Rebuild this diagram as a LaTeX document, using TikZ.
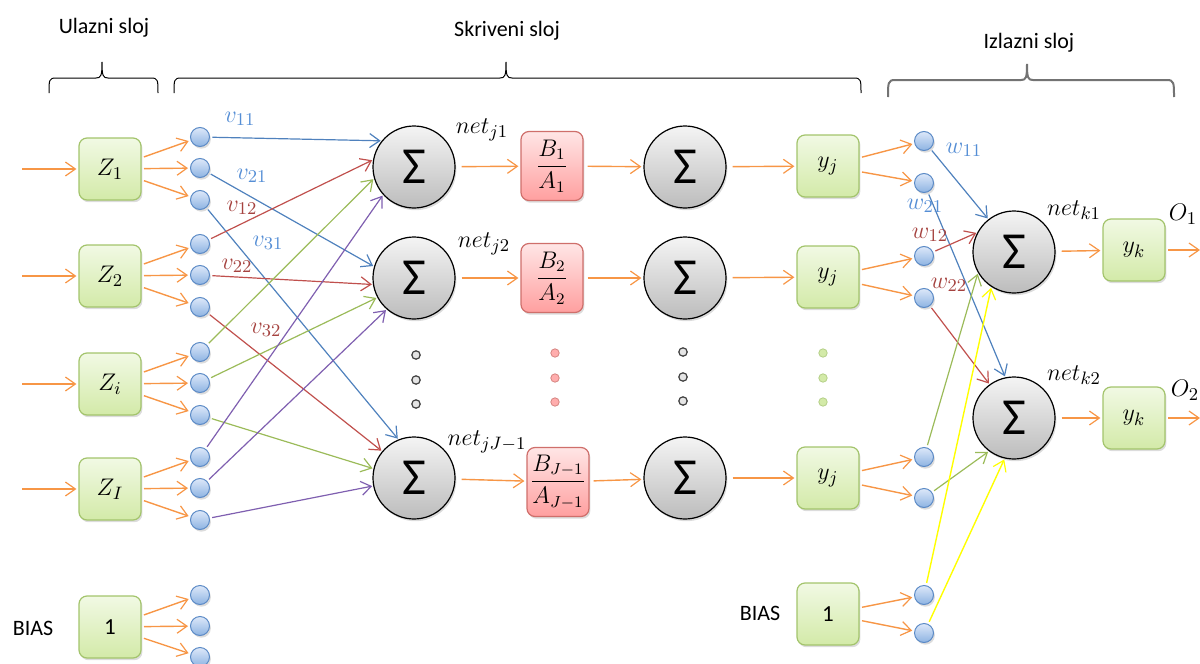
\documentclass[tikz,border=0pt]{standalone}
\usepackage{fontspec}
\setmainfont{Carlito}
\usepackage{amsmath}
\usetikzlibrary{arrows.meta,shadows}
\definecolor{gtop}{HTML}{F1F9E4}
\definecolor{gbot}{HTML}{D3EAA8}
\definecolor{gborder}{HTML}{A3C46C}
\definecolor{ptop}{HTML}{FFE6E6}
\definecolor{pbot}{HTML}{FF9F9F}
\definecolor{pborder}{HTML}{CF6F6B}
\definecolor{stop}{HTML}{F4F4F4}
\definecolor{sbot}{HTML}{BCBCBC}
\definecolor{ctop}{HTML}{DDE8F9}
\definecolor{cbot}{HTML}{8DB3E2}
\definecolor{cborder}{HTML}{5B8AC6}
\definecolor{corange}{HTML}{F79646}
\definecolor{cblue}{HTML}{4F81BD}
\definecolor{cred}{HTML}{C0504D}
\definecolor{cgreen}{HTML}{9BBB59}
\definecolor{cpurple}{HTML}{7F5FB0}
\definecolor{cyellow}{HTML}{FFFF00}
\definecolor{wblue}{HTML}{558ED5}
\definecolor{wred}{HTML}{A5423F}
\begin{document}
\begin{tikzpicture}[x=0.5pt,y=-0.5pt,
  lab/.style={font=\fontsize{11}{13}\selectfont, inner sep=0pt},
  mlab/.style={font=\fontsize{12.5}{14}\selectfont, inner sep=0pt},
  shad/.style={drop shadow={opacity=0.28,shadow xshift=0.7pt,shadow yshift=-1.1pt}},
  gbox/.style={rectangle,rounded corners=4pt,draw=gborder,line width=0.6pt,top color=gtop,bottom color=gbot,minimum width=31pt,minimum height=31pt,inner sep=0pt,font=\fontsize{12.5}{14}\selectfont,shad},
  pbox/.style={rectangle,rounded corners=4pt,draw=pborder,line width=0.6pt,top color=ptop,bottom color=pbot,minimum width=31pt,minimum height=34.5pt,inner sep=0pt,font=\fontsize{11.5}{13}\selectfont,shad},
  sumc/.style={circle,draw=black,line width=0.6pt,top color=stop,bottom color=sbot,minimum size=41pt,inner sep=0pt,font=\fontsize{26}{26}\selectfont,shad},
  bc/.style={circle,draw=cborder,line width=0.5pt,top color=ctop,bottom color=cbot,minimum size=9.5pt,inner sep=0pt,shad},
  dgray/.style={circle,draw=black!75,fill=black!10,line width=0.6pt,minimum size=4.2pt,inner sep=0pt},
  dpink/.style={circle,draw=pborder!85,fill=pbot!85,line width=0.4pt,minimum size=4.2pt,inner sep=0pt},
  dgreen/.style={circle,draw=gborder!80,fill=gbot,line width=0.4pt,minimum size=4.2pt,inner sep=0pt},
  conn/.style={line width=0.6pt,-{Straight Barb[length=5pt,width=7pt,line width=0.6pt]},shorten <=1.2pt,shorten >=0.5pt},
  oarr/.style={conn,draw=corange,line width=0.7pt,shorten >=1pt}
]
\useasboundingbox (0,0) rectangle (1200,664);

% ---- top labels and braces
\node[lab] (tu) at (104,28) {Ulazni sloj};
\node[lab] (ts) at (507,31) {Skriveni sloj};
\node[lab] (ti) at (1029,43) {Izlazni sloj};
\draw[line width=0.5pt] (49,93) .. controls (49,80) and (49,78) .. (56,78) -- (96,78) .. controls (101,78) and (102,76) .. (102,62)
  .. controls (102,76) and (103,78) .. (108,78) -- (151,78) .. controls (158,78) and (158,80) .. (158,93);
\draw[line width=0.5pt] (174,93) .. controls (174,80) and (174,78) .. (181,78) -- (500,78) .. controls (505,78) and (506,76) .. (506,62)
  .. controls (506,76) and (507,78) .. (512,78) -- (854,78) .. controls (861,78) and (861,80) .. (861,93);
\draw[line width=1pt,black!55] (888,97) .. controls (888,83) and (888,80) .. (895,80) -- (1021,80) .. controls (1026,80) and (1027,78) .. (1027,64)
  .. controls (1027,78) and (1028,80) .. (1033,80) -- (1167,80) .. controls (1174,80) and (1174,83) .. (1174,97);

% ---- input layer
\foreach \n/\yy/\t in {1/169/{$Z_1$},2/276/{$Z_2$},3/384/{$Z_i$},4/489/{$Z_I$}}{
  \node[gbox] (z\n) at (110,\yy) {\t};
  \coordinate (in\n) at (20,\yy);
  \draw[oarr] (in\n) -- (z\n);
  \node[bc] (c\n1) at (200,\yy-32) {};
  \node[bc] (c\n2) at (200,\yy-1) {};
  \node[bc] (c\n3) at (200,\yy+31) {};
  \draw[oarr] (z\n) -- (c\n1);
  \draw[oarr] (z\n) -- (c\n2);
  \draw[oarr] (z\n) -- (c\n3);
}
\node[lab] (bias1) at (33,628) {BIAS};
\node[gbox,font=\fontsize{11.5}{13}\selectfont] (zb) at (110,627) {1};
\node[bc] (cb1) at (200,595) {};
\node[bc] (cb2) at (200,626) {};
\node[bc] (cb3) at (200,657) {};
\draw[oarr] (zb) -- (cb1);
\draw[oarr] (zb) -- (cb2);
\draw[oarr] (zb) -- (cb3);

% ---- hidden layer
\node[sumc] (s1) at (414,167) {Σ};
\node[sumc] (s2) at (414,278) {Σ};
\node[sumc] (s3) at (414,478) {Σ};
\node[pbox] (f1) at (552,166) {$\dfrac{B_1}{A_1}$};
\node[pbox] (f2) at (552,278) {$\dfrac{B_2}{A_2}$};
\node[pbox] (f3) at (558,482) {$\dfrac{B_{J-1}}{A_{J-1}}$};
\node[sumc] (t1) at (685,167) {Σ};
\node[sumc] (t2) at (685,278) {Σ};
\node[sumc] (t3) at (685,478) {Σ};
\node[gbox] (y1) at (828,166) {$y_j$};
\node[gbox] (y2) at (828,277) {$y_j$};
\node[gbox] (y3) at (828,478) {$y_j$};
\foreach \r in {1,2,3}{
  \draw[oarr,shorten <=3pt] (s\r) -- (f\r);
  \draw[oarr,shorten <=2pt] (f\r) -- (t\r);
  \draw[oarr,shorten <=3pt] (t\r) -- (y\r);
}
\foreach \i/\yy in {1/355,2/380,3/404}{
  \node[dgray] (da\i) at (416,\yy) {};
  \node[dpink] (db\i) at (555,\yy-2) {};
  \node[dgray] (dc\i) at (683,\yy-3) {};
  \node[dgreen] (dd\i) at (823,\yy-2) {};
}
\node[mlab] (nj1) at (482,130) {$net_{j1}$};
\node[mlab] (nj2) at (484,244) {$net_{j2}$};
\node[mlab] (nj3) at (487,442) {$net_{jJ-1}$};

% input -> hidden connections
\draw[conn,cblue] (c11) -- (s1.141);
\draw[conn,cblue] (c12) -- (s2.164);
\draw[conn,cblue] (c13) -- (s3.112);
\draw[conn,cred] (c21) -- (s1.170);
\draw[conn,cred] (c22) -- (s2.189);
\draw[conn,cred] (c23) -- (s3.140);
\draw[conn,cgreen] (c31) -- (s1.196);
\draw[conn,cgreen] (c32) -- (s2.208);
\draw[conn,cgreen] (c33) -- (s3.167);
\draw[conn,cpurple] (c41) -- (s1.222);
\draw[conn,cpurple] (c42) -- (s2.229);
\draw[conn,cpurple] (c43) -- (s3.191);
\node[mlab,text=wblue] (lv11) at (240,119) {$v_{11}$};
\node[mlab,text=wblue] (lv21) at (252,176) {$v_{21}$};
\node[mlab,text=wred] (lv12) at (242,208) {$v_{12}$};
\node[mlab,text=wblue] (lv31) at (268,243) {$v_{31}$};
\node[mlab,text=wred] (lv22) at (237,266) {$v_{22}$};
\node[mlab,text=wred] (lv32) at (266,330) {$v_{32}$};

% ---- output layer
\node[bc] (e11) at (924,141) {};
\node[bc] (e12) at (924,183) {};
\node[bc] (e21) at (924,256) {};
\node[bc] (e22) at (924,298) {};
\node[bc] (e31) at (924,457) {};
\node[bc] (e32) at (924,498) {};
\node[lab] (bias2) at (760,613) {BIAS};
\node[gbox,font=\fontsize{11.5}{13}\selectfont] (yb) at (828,614) {1};
\node[bc] (eb1) at (924,595) {};
\node[bc] (eb2) at (924,633) {};
\draw[oarr] (y1) -- (e11);
\draw[oarr] (y1) -- (e12);
\draw[oarr] (y2) -- (e21);
\draw[oarr] (y2) -- (e22);
\draw[oarr] (y3) -- (e31);
\draw[oarr] (y3) -- (e32);
\draw[oarr] (yb) -- (eb1);
\draw[oarr] (yb) -- (eb2);

\node[sumc] (k1) at (1014,252) {Σ};
\node[sumc] (k2) at (1014,418) {Σ};
\node[gbox] (yk1) at (1134,250) {$y_k$};
\node[gbox] (yk2) at (1134,418) {$y_k$};
\coordinate (out1) at (1202,250);
\coordinate (out2) at (1202,418);
\draw[oarr,shorten <=3pt] (k1) -- (yk1);
\draw[oarr,shorten <=3pt] (k2) -- (yk2);
\draw[oarr] (yk1) -- (out1);
\draw[oarr] (yk2) -- (out2);

\draw[conn,cblue] (e11) -- (k1.128);
\draw[conn,cblue] (e12) -- (k2.102);
\draw[conn,cred] (e21) -- (k1.152);
\draw[conn,cred] (e22) -- (k2.126);
\draw[conn,cgreen] (e31) -- (k1.210);
\draw[conn,cgreen] (e32) -- (k2.233);
\draw[conn,cyellow,line width=0.7pt] (eb1) -- (k1.237);
\draw[conn,cyellow,line width=0.7pt] (eb2) -- (k2.257);

\node[mlab,text=wblue] (lw11) at (964,150) {$w_{11}$};
\node[mlab,text=wblue] (lw21) at (925,206) {$w_{21}$};
\node[mlab,text=wred] (lw12) at (930,235) {$w_{12}$};
\node[mlab,text=wred] (lw22) at (949,285) {$w_{22}$};
\node[mlab] (nk1) at (1074,210) {$net_{k1}$};
\node[mlab] (nk2) at (1074,375) {$net_{k2}$};
\node[mlab] (o1) at (1183,214) {$O_1$};
\node[mlab] (o2) at (1185,390) {$O_2$};
\end{tikzpicture}
\end{document}
